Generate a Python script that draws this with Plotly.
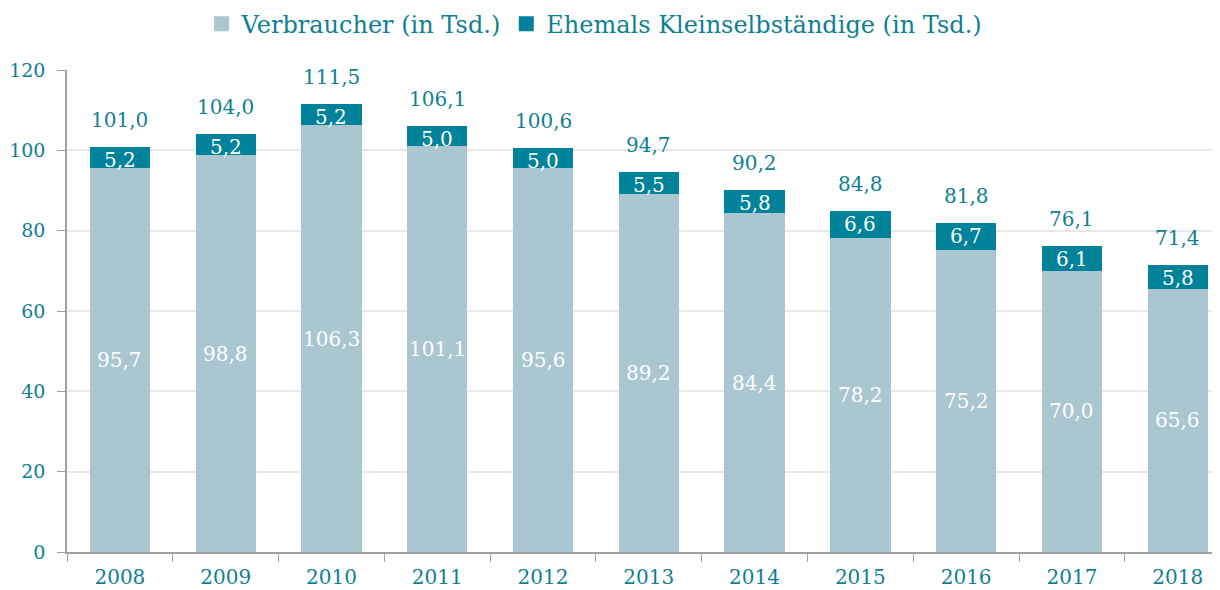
import plotly.graph_objects as go

years = ["2008", "2009", "2010", "2011", "2012", "2013", "2014", "2015", "2016", "2017", "2018"]
verbraucher = [95.7, 98.8, 106.3, 101.1, 95.6, 89.2, 84.4, 78.2, 75.2, 70.0, 65.6]
kleinselbst = [5.2, 5.2, 5.2, 5.0, 5.0, 5.5, 5.8, 6.6, 6.7, 6.1, 5.8]
totals = [101.0, 104.0, 111.5, 106.1, 100.6, 94.7, 90.2, 84.8, 81.8, 76.1, 71.4]
series_names = ["Verbraucher (in Tsd.)", "Ehemals Kleinselbständige (in Tsd.)"]

LIGHT = "#a9c6d1"
DARK = "#00839a"
TEAL = "#0f7f93"
FONT = "DejaVu Serif"


def de(v):
    return f"{v:.1f}".replace(".", ",")


fig = go.Figure()
fig.add_trace(go.Bar(
    x=years, y=verbraucher, name=series_names[0], showlegend=False,
    marker=dict(color=LIGHT, line=dict(width=0)),
))
fig.add_trace(go.Bar(
    x=years, y=kleinselbst, name=series_names[1], showlegend=False,
    marker=dict(color=DARK, line=dict(width=0)),
))
# legend entries with bigger square swatches
for name, col in zip(series_names, [LIGHT, DARK]):
    fig.add_trace(go.Scatter(
        x=[None], y=[None], mode="markers", name=name,
        marker=dict(symbol="square", size=15, color=col),
    ))

annotations = []
for i, (v, k, t) in enumerate(zip(verbraucher, kleinselbst, totals)):
    # white label in the middle of the light bar
    annotations.append(dict(x=i, y=v / 2, text=de(v), showarrow=False,
                            font=dict(color="white", size=20, family=FONT)))
    # white label at the dark segment
    annotations.append(dict(x=i, y=v + k, text=de(k), showarrow=False,
                            yanchor="top", yshift=1,
                            font=dict(color="white", size=20, family=FONT)))
    # total above the bar
    annotations.append(dict(x=i, y=v + k, text=de(t), showarrow=False,
                            yanchor="bottom", yshift=13,
                            font=dict(color=TEAL, size=20, family=FONT)))

# the page body adds an 8px offset, so the figure is a little smaller than the window
fig.update_layout(
    barmode="stack",
    bargap=0.43,
    width=1212, height=582,
    margin=dict(l=59, r=0, t=62, b=38, autoexpand=False),
    plot_bgcolor="white",
    paper_bgcolor="white",
    font=dict(family=FONT, color=TEAL, size=18),
    legend=dict(orientation="h", x=0.484, xanchor="center", xref="container",
                y=1.095, yref="paper", yanchor="middle",
                font=dict(size=24, color=TEAL), traceorder="normal",
                itemsizing="trace"),
    annotations=annotations,
    xaxis=dict(type="category", range=[-0.5, 10.4], automargin=False,
               showline=True, linecolor="#a0a0a0", linewidth=1.5,
               ticks="outside", ticklen=8, tickcolor="#a0a0a0",
               tickson="boundaries", ticklabelstandoff=6,
               tickfont=dict(size=20, color=TEAL)),
    yaxis=dict(range=[0, 120], dtick=20, automargin=False,
               showline=True, linecolor="#a0a0a0", linewidth=1.5,
               ticks="outside", ticklen=8, tickcolor="#a0a0a0", ticklabelstandoff=8,
               showgrid=True, gridcolor="#e8e8e8", gridwidth=1.5, zeroline=False,
               tickfont=dict(size=19, color=TEAL)),
)

fig.write_html("out.html")
